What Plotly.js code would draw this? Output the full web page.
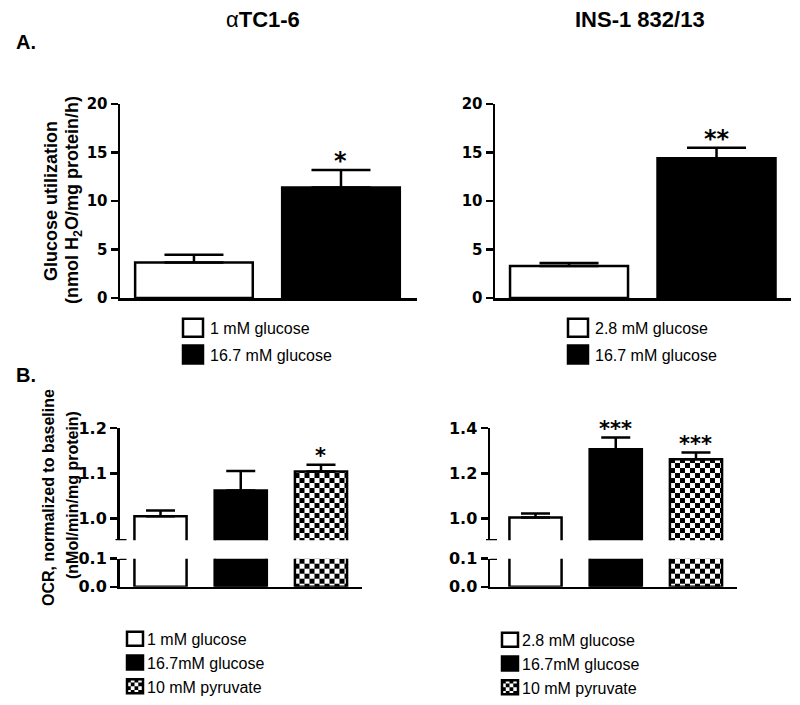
<!DOCTYPE html>
<html>
<head>
<meta charset="utf-8">
<script src="https://cdn.plot.ly/plotly-3.0.1.min.js"></script>
<style>html,body{margin:0;padding:0;background:#fff;}#chart{width:800px;height:705px;}</style>
</head>
<body>
<div id="chart"></div>
<script>
// ---------- data ----------
const panelTitles = ['αTC1-6', 'INS-1 832/13'];

const labelsA1 = ['1 mM glucose', '16.7 mM glucose'];
const valsA1 = [3.65, 11.38];
const errA1 = [0.81, 1.81];
const starsA1 = ['', '*'];

const labelsA2 = ['2.8 mM glucose', '16.7 mM glucose'];
const valsA2 = [3.30, 14.40];
const errA2 = [0.30, 1.08];
const starsA2 = ['', '**'];

const labelsB1 = ['1 mM glucose', '16.7mM glucose', '10 mM pyruvate'];
const valsB1 = [1.005, 1.062, 1.104];
const errB1 = [0.013, 0.043, 0.015];
const starsB1 = ['', '', '*'];

const labelsB2 = ['2.8 mM glucose', '16.7mM glucose', '10 mM pyruvate'];
const valsB2 = [1.005, 1.306, 1.262];
const errB2 = [0.018, 0.052, 0.030];
const starsB2 = ['', '***', '***'];

const ticksA = [0, 5, 10, 15, 20];
const ticksBUpperL = [1.0, 1.1, 1.2];
const ticksBUpperR = [1.0, 1.2, 1.4];
const ticksBLower = [0.0, 0.1];

// ---------- helpers ----------
const W = 800, H = 705;
const px = x => x / W;
const py = y => 1 - y / H;
const LW = 2.5;
const FONT = 'Liberation Sans, Arial, sans-serif';
const TICKFONT = 'DejaVu Sans, sans-serif';

function barStyle(i) {
  if (i === 0) return {color: 'white', line: {color: 'black', width: LW}};
  if (i === 1) return {color: 'black', line: {color: 'black', width: LW}};
  return {color: 'white', line: {color: 'black', width: LW},
          pattern: {shape: '.', fgcolor: 'black', bgcolor: 'white', size: 10, solidity: 0.5}};
}

const traces = [];
const annotations = [];

function addPanel(labels, vals, errs, stars, xa, yaTop, yaLow, legendName, width, capW, starSize, gid) {
  labels.forEach((lab, i) => {
    traces.push({
      type: 'bar', x: [i], y: [vals[i]], width: [width], name: lab,
      xaxis: xa, yaxis: yaTop, legend: legendName, legendgroup: gid + i,
      marker: barStyle(i), showlegend: true, hoverinfo: 'skip',
      error_y: {type: 'data', array: [errs[i]], arrayminus: [0], symmetric: false,
                color: 'black', thickness: LW, width: capW}
    });
    if (yaLow) {
      traces.push({
        type: 'bar', x: [i], y: [vals[i]], width: [width], name: lab,
        xaxis: xa, yaxis: yaLow, legend: legendName, legendgroup: gid + i,
        marker: barStyle(i), showlegend: false, hoverinfo: 'skip'
      });
    }
    if (stars[i]) {
      annotations.push({
        x: i, y: vals[i] + errs[i], xref: xa, yref: yaTop, text: stars[i],
        showarrow: false, xanchor: 'center', yanchor: 'middle', yshift: 9,
        font: {family: TICKFONT, size: starSize, color: 'black', weight: 'bold'}
      });
    }
  });
}

addPanel(labelsA1, valsA1, errA1, starsA1, 'x', 'y', null, 'legend', 0.8, 29.5, 24, 'a1_');
addPanel(labelsA2, valsA2, errA2, starsA2, 'x2', 'y2', null, 'legend2', 0.8, 29.5, 24, 'a2_');
addPanel(labelsB1, valsB1, errB1, starsB1, 'x3', 'y3', 'y4', 'legend3', 0.65, 14.5, 21, 'b1_');
addPanel(labelsB2, valsB2, errB2, starsB2, 'x4', 'y5', 'y6', 'legend4', 0.65, 14.5, 21, 'b2_');

function xAxis(dom, range, anchor) {
  return {domain: dom, range: range, anchor: anchor, showline: true, linewidth: LW, linecolor: 'black',
          ticks: '', showticklabels: false, showgrid: false, zeroline: false, fixedrange: true};
}
function yAxis(dom, range, anchor, tv, fmt, fs) {
  return {domain: dom, range: range, anchor: anchor, showline: true, linewidth: LW, linecolor: 'black',
          ticks: 'outside', ticklen: 7, tickwidth: LW, tickcolor: 'black',
          tickvals: tv, ticktext: tv.map(v => fmt(v)),
          tickfont: {family: TICKFONT, size: fs, color: 'black', weight: 'bold'},
          showgrid: false, zeroline: false, fixedrange: true};
}
const f0 = v => String(v);
const f1 = v => v.toFixed(1);

const yA = [py(301), py(105)];
const yBtop = [py(545.7), py(432.3)];
const yBlow = [py(592.7), py(564.3)];

// panel titles & letters
annotations.push(
  {x: px(263), y: py(19.5), xref: 'paper', yref: 'paper', showarrow: false, xanchor: 'center', yanchor: 'middle',
   text: '<span style="font-weight:normal">α</span>' + panelTitles[0].slice(1),
   font: {family: FONT, size: 22, color: 'black', weight: 'bold'}},
  {x: px(640), y: py(19.5), xref: 'paper', yref: 'paper', showarrow: false, xanchor: 'center', yanchor: 'middle',
   text: panelTitles[1], font: {family: FONT, size: 22, color: 'black', weight: 'bold'}},
  {x: px(14), y: py(42), xref: 'paper', yref: 'paper', showarrow: false, xanchor: 'left', yanchor: 'middle',
   text: 'A.', font: {family: FONT, size: 20, color: 'black', weight: 'bold'}},
  {x: px(14), y: py(379), xref: 'paper', yref: 'paper', showarrow: false, xanchor: 'left', yanchor: 'middle',
   text: 'B.', font: {family: FONT, size: 20, color: 'black', weight: 'bold'}},
  // y-axis titles
  {x: px(51), y: py(203), xref: 'paper', yref: 'paper', showarrow: false, textangle: -90,
   xanchor: 'center', yanchor: 'middle', text: 'Glucose utilization',
   font: {family: FONT, size: 18, color: 'black', weight: 'bold'}},
  {x: px(74), y: py(202), xref: 'paper', yref: 'paper', showarrow: false, textangle: -90,
   xanchor: 'center', yanchor: 'middle', text: '(nmol H<sub>2</sub>O/mg protein/h)',
   font: {family: FONT, size: 18, color: 'black', weight: 'bold'}},
  {x: px(48), y: py(503), xref: 'paper', yref: 'paper', showarrow: false, textangle: -90,
   xanchor: 'center', yanchor: 'middle', text: 'OCR, normalized to baseline',
   font: {family: FONT, size: 16, color: 'black', weight: 'bold'}},
  {x: px(72), y: py(500), xref: 'paper', yref: 'paper', showarrow: false, textangle: -90,
   xanchor: 'center', yanchor: 'middle', text: '(nMol/min/mg protein)',
   font: {family: FONT, size: 16, color: 'black', weight: 'bold'}}
);

// axis-break marks
function brk(xAnchor, yref, yv, a, b) {
  return {type: 'line', xref: 'paper', xsizemode: 'pixel', xanchor: xAnchor, x0: a, x1: b,
          yref: yref, y0: yv, y1: yv, line: {color: 'black', width: LW}};
}
const shapes = [
  brk(px(119.5), 'y3', 0.952, -4, 7), brk(px(119.5), 'y4', 0.1, 0, 7),
  brk(px(490), 'y5', 0.905, -4, 7), brk(px(490), 'y6', 0.1, 0, 7)
];

function legendAt(xp, yp, gap) {
  return {x: px(xp), y: py(yp), xanchor: 'left', yanchor: 'top', bgcolor: 'rgba(0,0,0,0)',
          borderwidth: 0, tracegroupgap: gap, traceorder: 'grouped',
          font: {family: FONT, size: 16, color: 'black'}};
}

const layout = {
  width: W, height: H, margin: {l: 0, r: 0, t: 0, b: 0},
  paper_bgcolor: 'white', plot_bgcolor: 'white', showlegend: true, barmode: 'overlay',
  xaxis: xAxis([px(120), px(417)], [-0.503, 1.517], 'y'),
  yaxis: yAxis(yA, [0, 20], 'x', ticksA, f0, 15),
  xaxis2: xAxis([px(495), px(791)], [-0.502, 1.505], 'y2'),
  yaxis2: yAxis(yA, [0, 20], 'x2', ticksA, f0, 15),
  xaxis3: xAxis([px(119.5), px(362)], [-0.511, 2.511], 'y4'),
  yaxis3: yAxis(yBtop, [0.952, 1.2], 'x3', ticksBUpperL, f1, 16),
  yaxis4: yAxis(yBlow, [0, 0.1], 'x3', ticksBLower, f1, 16),
  xaxis4: xAxis([px(490), px(737)], [-0.567, 2.511], 'y6'),
  yaxis5: yAxis(yBtop, [0.905, 1.4], 'x4', ticksBUpperR, f1, 16),
  yaxis6: yAxis(yBlow, [0, 0.1], 'x4', ticksBLower, f1, 16),
  legend: legendAt(170, 314, 3),
  legend2: legendAt(555, 314, 3),
  legend3: legendAt(107, 628, 0),
  legend4: legendAt(482, 629, 0),
  annotations: annotations,
  shapes: shapes
};

function fixPatterns(gd) {
  const ns = 'http://www.w3.org/2000/svg';
  gd.querySelectorAll('pattern').forEach(p => {
    if (!p.querySelector('circle')) return;
    const isLegend = /legend/i.test(p.id);
    const s = isLegend ? 4.7 : 5;
    while (p.firstChild) p.removeChild(p.firstChild);
    p.setAttribute('width', 2 * s);
    p.setAttribute('height', 2 * s);
    const mk = (x, y, w, h, f) => {
      const r = document.createElementNS(ns, 'rect');
      r.setAttribute('x', x); r.setAttribute('y', y);
      r.setAttribute('width', w); r.setAttribute('height', h);
      r.setAttribute('fill', f); p.appendChild(r);
    };
    mk(0, 0, 2 * s, 2 * s, 'white');
    mk(0, 0, s, s, 'black');
    mk(s, s, s, s, 'black');
  });
}
function fixLegendSymbols(gd) {
  const sizes = {legend: 'M13,9H-7V-9H13Z', legend2: 'M13,9H-7V-9H13Z',
                 legend3: 'M16,7H0V-7H16Z', legend4: 'M16,7H0V-7H16Z'};
  Object.keys(sizes).forEach(k => {
    gd.querySelectorAll('g.' + k + ' g.legendpoints path').forEach(p => {
      p.setAttribute('d', sizes[k]);
    });
  });
}

Plotly.newPlot('chart', traces, layout, {staticPlot: true, displayModeBar: false}).then(gd => {
  fixPatterns(gd);
  fixLegendSymbols(gd);
});
</script>
</body>
</html>
